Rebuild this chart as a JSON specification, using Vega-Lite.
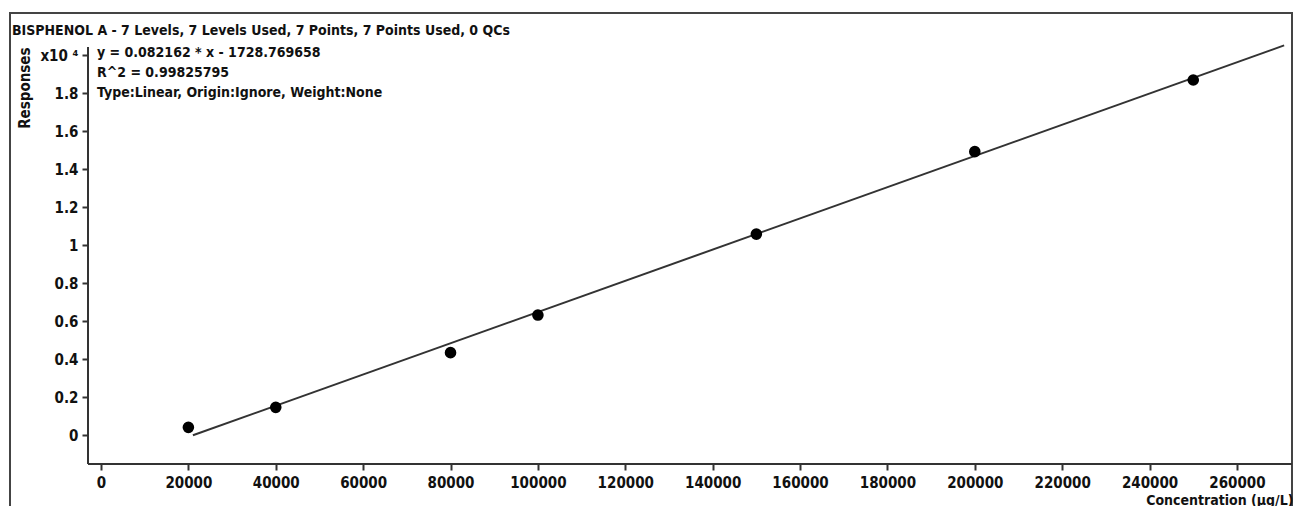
{
  "$schema": "https://vega.github.io/schema/vega-lite/v6.json",
  "width": 1282,
  "height": 495,
  "autosize": "none",
  "padding": {"left": 10, "top": 13, "right": 1, "bottom": 0},
  "background": "white",
  "config": {
    "view": {"stroke": "#444", "strokeWidth": 2},
    "font": "DejaVu Sans Condensed, sans-serif",
    "axis": {"grid": false, "domain": false, "tickColor": "#333", "tickWidth": 2, "labelColor": "#111", "titleColor": "#111"}
  },
  "title": {
    "text": "BISPHENOL A - 7 Levels, 7 Levels Used, 7 Points, 7 Points Used, 0 QCs",
    "anchor": "start",
    "frame": "group",
    "offset": -25,
    "dx": 2,
    "fontSize": 14,
    "fontWeight": "bold",
    "color": "#111"
  },
  "datasets": {
    "points": [
      {"conc": 20000, "resp": 420},
      {"conc": 40000, "resp": 1470},
      {"conc": 80000, "resp": 4350},
      {"conc": 100000, "resp": 6330},
      {"conc": 150000, "resp": 10590},
      {"conc": 200000, "resp": 14930},
      {"conc": 250000, "resp": 18700}
    ],
    "fit": [
      {"conc": 21041, "resp": 0},
      {"conc": 270800, "resp": 20520}
    ]
  },
  "layer": [
    {
      "data": {"name": "fit"},
      "mark": {"type": "line", "color": "#333", "strokeWidth": 2},
      "encoding": {
        "x": {
          "field": "conc",
          "type": "quantitative",
          "scale": {"domain": [-20829, 272602], "nice": false, "zero": false},
          "axis": {
            "orient": "bottom",
            "offset": -44,
            "values": [0, 20000, 40000, 60000, 80000, 100000, 120000, 140000, 160000, 180000, 200000, 220000, 240000, 260000],
            "format": "d",
            "tickSize": 6,
            "labelPadding": 5,
            "labelFontSize": 15,
            "labelFontWeight": "bold",
            "title": "Concentration (µg/L)",
            "titleFontSize": 14,
            "titleFontWeight": "bold",
            "titleAnchor": "end",
            "titleAlign": "right",
            "titleBaseline": "alphabetic",
            "titleX": 1283,
            "titleY": 40
          }
        },
        "y": {
          "field": "resp",
          "type": "quantitative",
          "scale": {"domain": [-3826, 22226], "nice": false, "zero": false},
          "axis": {
            "orient": "left",
            "offset": -78,
            "values": [0, 2000, 4000, 6000, 8000, 10000, 12000, 14000, 16000, 18000, 20000],
            "labelExpr": "datum.value == 20000 ? 'x10 ⁴' : format(datum.value / 10000, '~g')",
            "tickSize": 6,
            "labelPadding": 4,
            "labelFontSize": 15,
            "labelFontWeight": "bold",
            "title": "Responses",
            "titleFontSize": 15,
            "titleFontWeight": "bold",
            "titleAngle": -90,
            "titleAlign": "right",
            "titleBaseline": "middle",
            "titleX": -64,
            "titleY": 34
          }
        }
      }
    },
    {
      "data": {"name": "points"},
      "mark": {"type": "point", "filled": true, "color": "#000", "opacity": 1, "size": 135},
      "encoding": {
        "x": {"field": "conc", "type": "quantitative"},
        "y": {"field": "resp", "type": "quantitative"}
      }
    },
    {
      "data": {"values": [{}]},
      "mark": {"type": "rule", "color": "#333", "strokeWidth": 2},
      "encoding": {
        "x": {"datum": -2975, "type": "quantitative"},
        "y": {"datum": -1511, "type": "quantitative"},
        "y2": {"datum": 20437}
      }
    },
    {
      "data": {"values": [{}]},
      "mark": {"type": "rule", "color": "#333", "strokeWidth": 2},
      "encoding": {
        "x": {"datum": -2975, "type": "quantitative"},
        "x2": {"datum": 272602},
        "y": {"datum": -1511, "type": "quantitative"}
      }
    },
    {
      "data": {"values": [{}]},
      "mark": {
        "type": "text",
        "text": ["y = 0.082162 * x  - 1728.769658", "R^2 = 0.99825795", "Type:Linear, Origin:Ignore, Weight:None"],
        "align": "left",
        "baseline": "top",
        "dx": 9,
        "dy": -1,
        "lineHeight": 20,
        "fontSize": 14,
        "fontWeight": "bold",
        "color": "#111"
      },
      "encoding": {
        "x": {"datum": -2975, "type": "quantitative"},
        "y": {"datum": 20437, "type": "quantitative"}
      }
    }
  ]
}
